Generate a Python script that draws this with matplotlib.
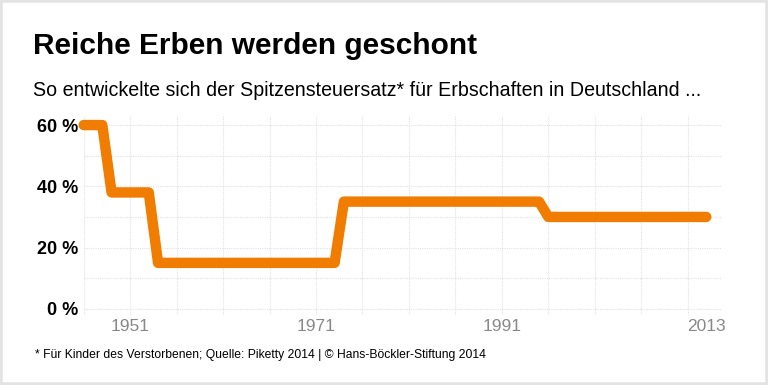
import matplotlib
matplotlib.use('Agg')
import matplotlib.pyplot as plt
from matplotlib.patches import Rectangle

# Spitzensteuersatz for inheritances (children), per year
years = [1946, 1948, 1949, 1953, 1954, 1973, 1974, 1995, 1996, 2013]
rates = [60, 60, 38, 38, 15, 15, 35, 35, 30, 30]

x_ticks = [1951, 1971, 1991, 2013]
y_ticks = [0, 20, 40, 60]
y_labels = ['0 %', '20 %', '40 %', '60 %']

title = 'Reiche Erben werden geschont'
subtitle = 'So entwickelte sich der Spitzensteuersatz* für Erbschaften in Deutschland ...'
footer = '* Für Kinder des Verstorbenen; Quelle: Piketty 2014 | © Hans-Böckler-Stiftung 2014'

plt.rcParams['font.family'] = ['Liberation Sans', 'DejaVu Sans']

fig = plt.figure(figsize=(7.68, 3.85), dpi=100)
ax = fig.add_axes([0.109, 0.182, 0.830, 0.517])

# light grid
for yr in range(1946, 2015, 5):
    ax.axvline(yr, color='#e2e2e2', lw=0.8, ls=(0, (1, 1)), zorder=0)
for v in range(0, 61, 10):
    ax.axhline(v, color='#e2e2e2', lw=0.8, ls=(0, (1, 1)), zorder=0)

ax.plot(years, rates, color='#f07d00', lw=7.5, solid_capstyle='round',
        solid_joinstyle='round', clip_on=False, zorder=3)

ax.set_xlim(1946, 2014.6)
ax.set_ylim(-2, 63)
ax.set_xticks(x_ticks)
ax.set_xticklabels([str(x) for x in x_ticks], color='#888888', fontsize=12.5)
ax.set_yticks(y_ticks)
ax.set_yticklabels(y_labels, fontsize=13, fontweight='bold')
ax.tick_params(axis='x', length=0, pad=3)
ax.tick_params(axis='y', length=0, pad=4)
for s in ax.spines.values():
    s.set_visible(False)

fig.text(0.043, 0.880, title, fontsize=21.5, fontweight='bold', va='center')
fig.text(0.043, 0.765, subtitle, fontsize=14.1, va='center')
fig.text(0.046, 0.078, footer, fontsize=8.75, va='center')

fig.patches.append(Rectangle((0, 0), 1, 1, transform=fig.transFigure,
                             fill=False, edgecolor='#e3e3e3', lw=4))

fig.savefig('out.png', dpi=100)
